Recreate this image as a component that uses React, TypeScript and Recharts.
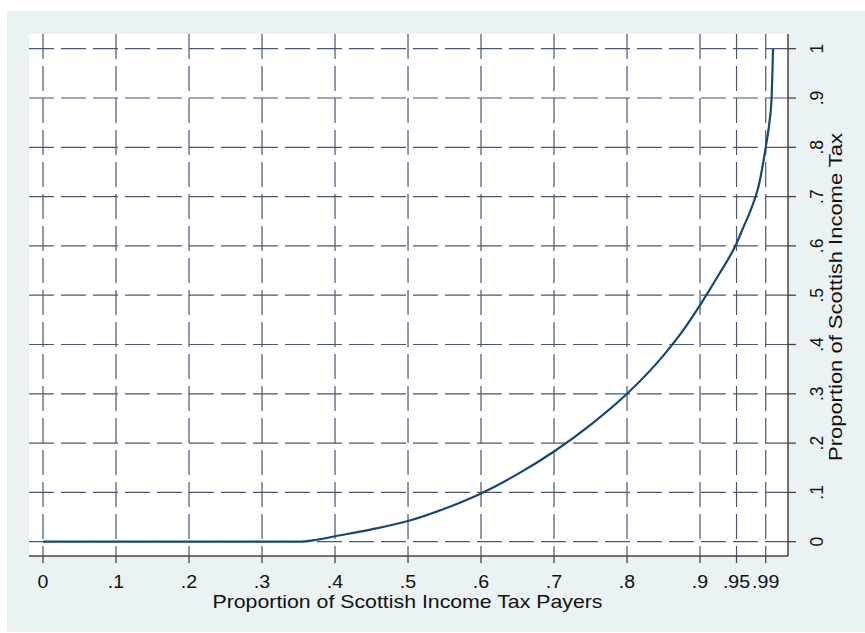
import { CartesianGrid, Line, LineChart, XAxis, YAxis } from 'recharts'

// concentration curve
const shareOfPayers = [
  0, 0.1, 0.2, 0.3, 0.35, 0.375, 0.4, 0.45, 0.5, 0.55, 0.6, 0.65, 0.7, 0.75, 0.8,
  0.85, 0.875, 0.9, 0.925, 0.95, 0.96, 0.97, 0.98, 0.99, 0.995, 0.998, 1,
]
const shareOfTax = [
  0, 0, 0, 0, 0, 0.004, 0.011, 0.025, 0.042, 0.067, 0.098, 0.137, 0.183, 0.237, 0.3,
  0.378, 0.425, 0.48, 0.54, 0.605, 0.64, 0.675, 0.72, 0.8, 0.85, 0.9, 1,
]

const xTicks = [0, 0.1, 0.2, 0.3, 0.4, 0.5, 0.6, 0.7, 0.8, 0.9, 0.95, 0.99]
const xTickLabels = ['0', '.1', '.2', '.3', '.4', '.5', '.6', '.7', '.8', '.9', '.95', '.99']
const yTicks = [0, 0.1, 0.2, 0.3, 0.4, 0.5, 0.6, 0.7, 0.8, 0.9, 1]
const yTickLabels = ['0', '.1', '.2', '.3', '.4', '.5', '.6', '.7', '.8', '.9', '1']

const xTitle = 'Proportion of Scottish Income Tax Payers'
const yTitle = 'Proportion of Scottish Income Tax'

const FONT = '"Liberation Sans", Arial, sans-serif'
const INK = '#111'
const AXIS = '#444'
const GRID = '#4b5775'
const NAVY = '#1a476f'

const data = shareOfPayers.map((x, i) => ({ x, y: shareOfTax[i] }))

// the source image is a little stretched sideways, so the x labels are widened to match
function XTick({ x, y, payload }: any) {
  const i = xTicks.indexOf(payload.value)
  return (
    <text
      transform={`translate(${x},${y + 23}) scale(1.12,1)`}
      textAnchor="middle"
      fontSize={17.5}
      fontFamily={FONT}
      fill={INK}
    >
      {xTickLabels[i]}
    </text>
  )
}

function YTick({ x, y, payload }: any) {
  const i = yTicks.indexOf(payload.value)
  return (
    <text
      transform={`translate(${x + 25},${y}) rotate(-90)`}
      textAnchor="middle"
      fontSize={17.5}
      fontFamily={FONT}
      fill={INK}
    >
      {yTickLabels[i]}
    </text>
  )
}

function XTitle({ viewBox }: any) {
  const cx = viewBox.x + viewBox.width / 2 - 1
  return (
    <text
      x={cx}
      y={viewBox.y + 52}
      textAnchor="middle"
      fontSize={18.5}
      fontFamily={FONT}
      fill={INK}
      textLength={390}
      lengthAdjust="spacingAndGlyphs"
    >
      {xTitle}
    </text>
  )
}

function YTitle({ viewBox }: any) {
  const cy = viewBox.y + viewBox.height / 2 + 2
  return (
    <text
      transform={`translate(${viewBox.x + 54},${cy}) rotate(-90)`}
      textAnchor="middle"
      fontSize={19}
      fontFamily={FONT}
      fill={INK}
      textLength={328}
      lengthAdjust="spacingAndGlyphs"
    >
      {yTitle}
    </text>
  )
}

export default function App() {
  return (
    <div style={{ position: 'absolute', left: 0, top: 0, width: 865, height: 633, background: '#fff' }}>
      <div
        style={{ position: 'absolute', left: 7, top: 11, width: 858, height: 621, background: '#eaf2f3' }}
      />
      <div style={{ position: 'absolute', left: 0, top: 0 }}>
        <LineChart width={865} height={633} data={data} margin={{ top: 34, left: 29, right: 0, bottom: 0 }}>
          <CartesianGrid
            fill="#fff"
            stroke={GRID}
            strokeWidth={1.2}
            strokeDasharray="25 7"
            syncWithTicks
          />
          <XAxis
            dataKey="x"
            type="number"
            domain={[-0.0192, 1.0205]}
            allowDataOverflow
            ticks={xTicks}
            interval={0}
            height={77}
            tickSize={7}
            axisLine={{ stroke: AXIS, strokeWidth: 1.5 }}
            tickLine={{ stroke: AXIS, strokeWidth: 1.3 }}
            tick={<XTick />}
            label={<XTitle />}
          />
          <YAxis
            orientation="right"
            type="number"
            domain={[-0.029, 1.0298]}
            allowDataOverflow
            ticks={yTicks}
            interval={0}
            width={77}
            tickSize={8}
            axisLine={{ stroke: AXIS, strokeWidth: 1.5 }}
            tickLine={{ stroke: AXIS, strokeWidth: 1.3 }}
            tick={<YTick />}
            label={<YTitle />}
          />
          <Line
            dataKey="y"
            type="monotone"
            stroke={NAVY}
            strokeWidth={2.2}
            dot={false}
            isAnimationActive={false}
          />
        </LineChart>
      </div>
    </div>
  )
}
